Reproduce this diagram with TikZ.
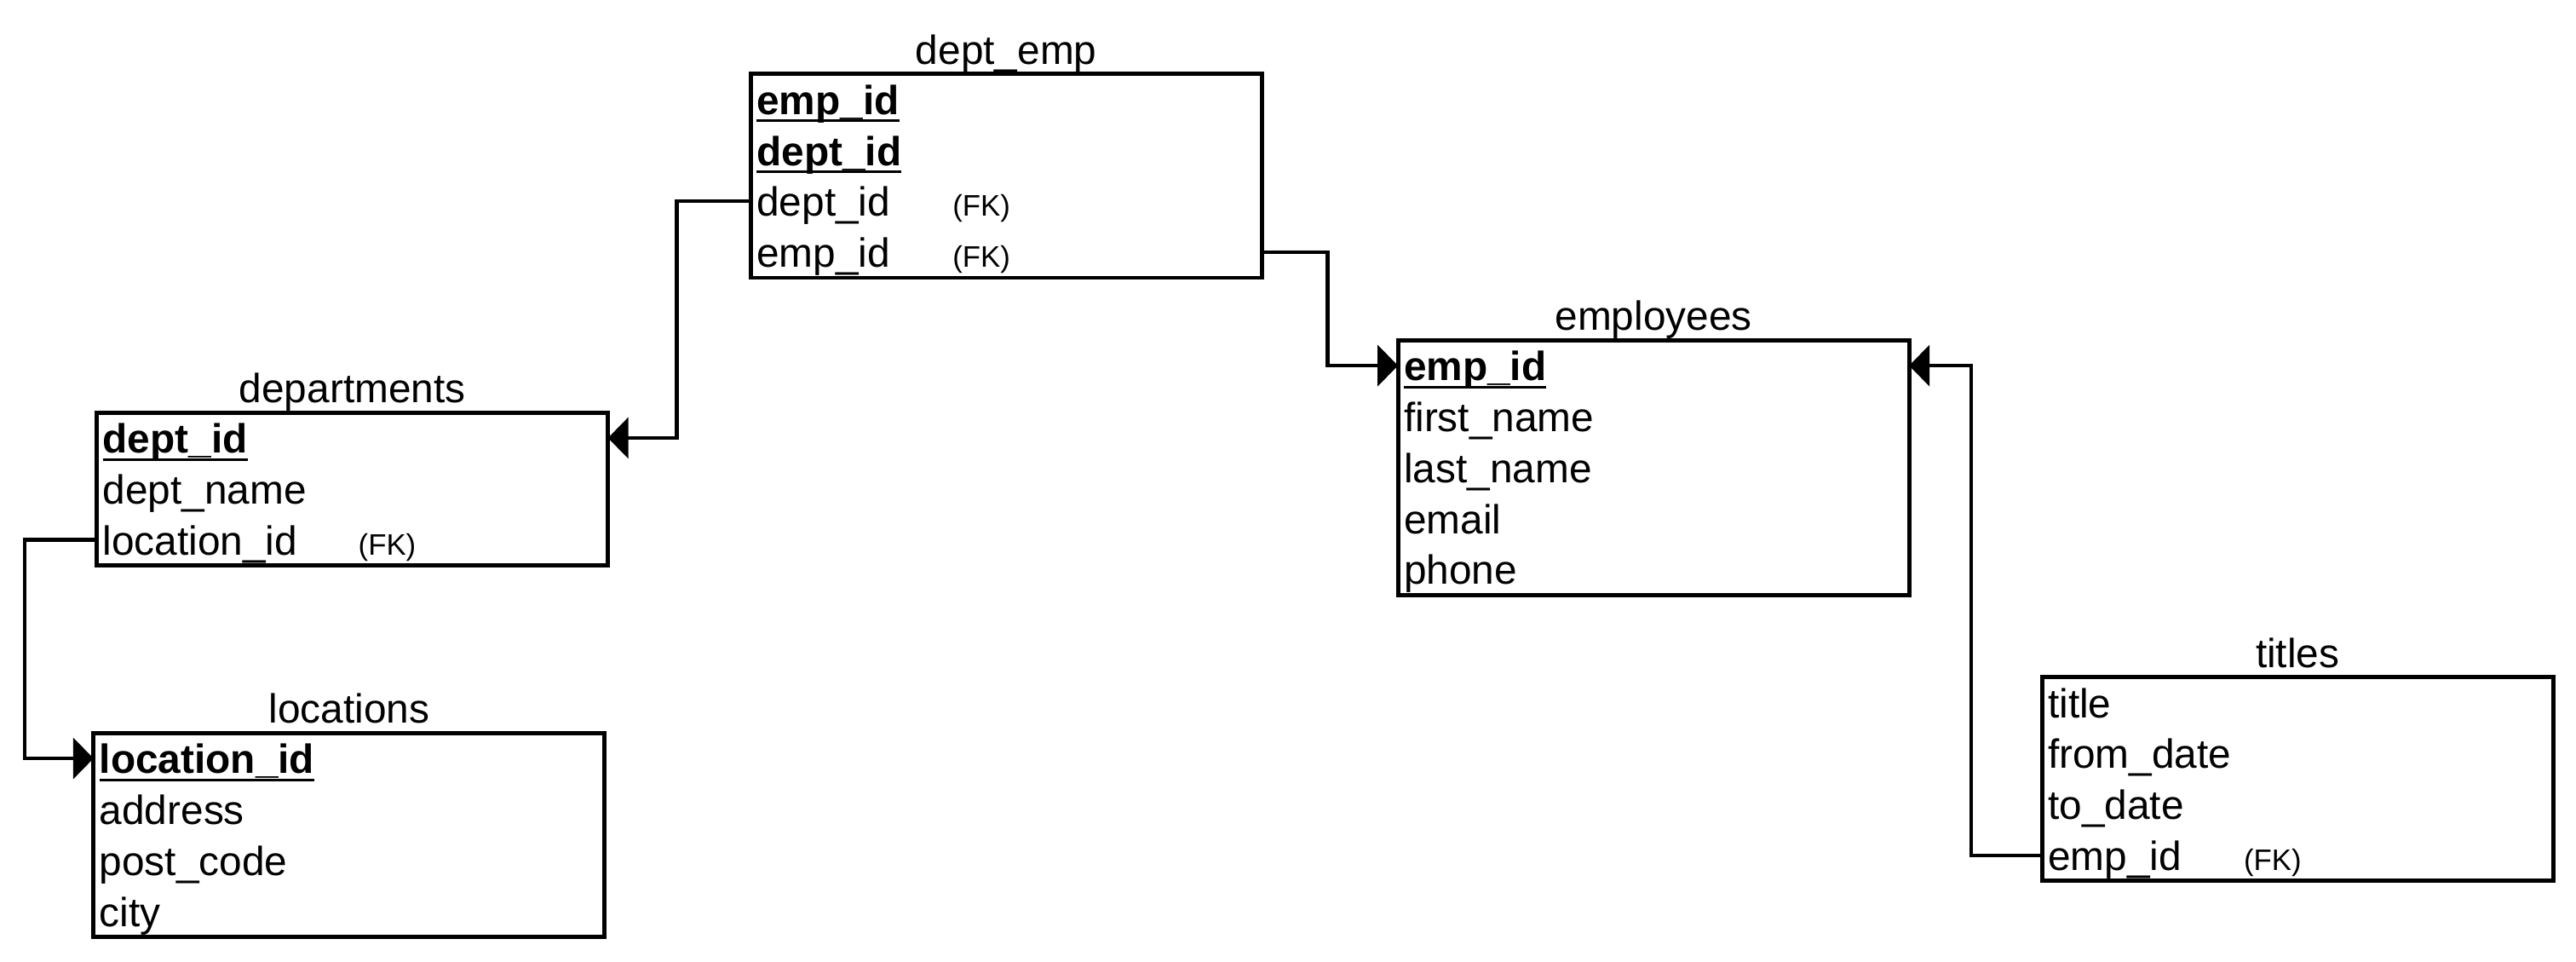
\documentclass[tikz,border=0pt]{standalone}
\usepackage{fontspec}
\setmainfont{Liberation Sans}
\usetikzlibrary{positioning,fit,arrows.meta}

\newcommand{\pk}[1]{\setbox0\hbox{\textbf{#1}}\rlap{\rule[-2.6pt]{\wd0}{0.9pt}}\box0}
\newcommand{\fkcol}[2]{\makebox[#1][l]{#2}{\fontsize{9.9}{12}\selectfont(FK)}}

\begin{document}
\begin{tikzpicture}[x=0.019286cm,y=-0.019286cm,node distance=0.598cm,on grid,
    font=\fontsize{13.6}{16}\selectfont,
    rowcell/.style={minimum width=6cm,minimum height=0.598cm,text width=5.86cm,
      inner xsep=0.07cm,inner ysep=0pt,outer sep=0pt,align=left,
      text height=11.5pt,text depth=1.5pt},
    tablebox/.style={draw,line width=1.4pt,inner sep=0pt},
    tabletitle/.style={inner sep=0pt,text depth=2.3pt},
    fk/.style={line width=1.2pt,-{Triangle[length=0.24cm,width=0.48cm]}}]
  \useasboundingbox (0,0) rectangle (1568,585);

  % dept_emp
  \node[rowcell] (de1) at (612.5,60.5) {\pk{emp\_id}};
  \node[rowcell,below=of de1] (de2) {\pk{dept\_id}};
  \node[rowcell,below=of de2] (de3) {\fkcol{2.3cm}{dept\_id}};
  \node[rowcell,below=of de3] (de4) {\fkcol{2.3cm}{emp\_id}};
  \node[tablebox,fit=(de1)(de4),label={[tabletitle]above:dept\_emp}] (dept_emp) {};

  % departments
  \node[rowcell] (dp1) at (214.5,266.5) {\pk{dept\_id}};
  \node[rowcell,below=of dp1] (dp2) {dept\_name};
  \node[rowcell,below=of dp2] (dp3) {\fkcol{3cm}{location\_id}};
  \node[tablebox,fit=(dp1)(dp3),label={[tabletitle]above:departments}] (departments) {};

  % locations
  \node[rowcell] (lo1) at (212.5,461.5) {\pk{location\_id}};
  \node[rowcell,below=of lo1] (lo2) {address};
  \node[rowcell,below=of lo2] (lo3) {post\_code};
  \node[rowcell,below=of lo3] (lo4) {city};
  \node[tablebox,fit=(lo1)(lo4),label={[tabletitle]above:locations}] (locations) {};

  % employees
  \node[rowcell] (em1) at (1006.5,222.5) {\pk{emp\_id}};
  \node[rowcell,below=of em1] (em2) {first\_name};
  \node[rowcell,below=of em2] (em3) {last\_name};
  \node[rowcell,below=of em3] (em4) {email};
  \node[rowcell,below=of em4] (em5) {phone};
  \node[tablebox,fit=(em1)(em5),label={[tabletitle]above:employees}] (employees) {};

  % titles
  \node[rowcell] (ti1) at (1398.5,427.5) {title};
  \node[rowcell,below=of ti1] (ti2) {from\_date};
  \node[rowcell,below=of ti2] (ti3) {to\_date};
  \node[rowcell,below=of ti3] (ti4) {\fkcol{2.3cm}{emp\_id}};
  \node[tablebox,fit=(ti1)(ti4),label={[tabletitle]above:titles}] (titles) {};

  \draw[fk] (de3.west) -- ++(-45,0) |- (dp1.east);
  \draw[fk] (de4.east) -- ++(40,0) |- (em1.west);
  \draw[fk] (dp3.west) -- ++(-44,0) |- (lo1.west);
  \draw[fk] (ti4.west) -- ++(-43,0) |- (em1.east);
\end{tikzpicture}
\end{document}
